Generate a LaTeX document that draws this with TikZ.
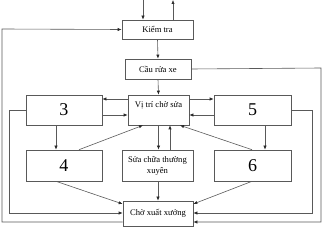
\documentclass[tikz,border=0pt]{standalone}
\usepackage{fontspec}
\setmainfont{Liberation Serif}
\usetikzlibrary{arrows.meta}
\begin{document}
\begin{tikzpicture}[x=1pt,y=-1pt,
  box/.style={draw=black!65,line width=0.6pt,rectangle,inner sep=0pt,font=\fontsize{8.6}{10}\selectfont},
  numbox/.style={box,font=\fontsize{18}{20}\selectfont},
  ln/.style={draw=black!65,line width=0.6pt},
  arr/.style={ln,-{Latex[length=4pt,width=3.2pt,color=black!85]}}]
\useasboundingbox (0,0) rectangle (322,227);
% nodes
\node[box,minimum width=71pt,minimum height=19pt] (k) at (157.5,29.5) {Kiểm tra};
\node[box,minimum width=66pt,minimum height=20pt] (c) at (158,69) {Cầu rửa xe};
\node[box,minimum width=61pt,minimum height=30pt] (v) at (158.5,110) {};
\node[font=\fontsize{8.6}{10}\selectfont] (vt) at (158.5,105) {Vị trí chờ sửa};
\node[numbox,minimum width=76pt,minimum height=30pt] (b3) at (64,110) {3};
\node[numbox,minimum width=77pt,minimum height=30pt] (b5) at (252.5,110) {5};
\node[numbox,minimum width=76pt,minimum height=31pt] (b4) at (64,165.5) {4};
\node[box,minimum width=71pt,minimum height=31pt,align=center] (s) at (157.5,165.5) {Sửa chữa thường\\[1pt]xuyên};
\node[numbox,minimum width=77pt,minimum height=31pt] (b6) at (252.5,165.5) {6};
\node[box,minimum width=70pt,minimum height=25pt] (ch) at (158,213.5) {Chờ xuất xưởng};
% free ends / corners
\coordinate (tin) at (143,0);
\coordinate (tout) at (173,0);
\coordinate (cr1) at (321,68);
\coordinate (cr2) at (321,222);
\coordinate (cl1) at (2,222);
\coordinate (cl2) at (2,29);
\coordinate (l3a) at (9,110);
\coordinate (l3b) at (9,213);
\coordinate (r5a) at (312,110);
\coordinate (r5b) at (312,213);
% connectors
\draw[arr] (tin) -- (tin |- k.north);
\draw[arr] (tout |- k.north) -- (tout);
\draw[arr] (k.south) -- (c.north);
\draw[arr] (c.south) -- (v.north);
\draw[arr] (c.east) -- (cr1) -- (cr2) -- (ch.east |- cr2);
\draw[arr] (ch.west |- cl1) -- (cl1) -- (cl2) -- (k.west);
\draw[arr] (v.west |- 0,99) -- (b3.east |- 0,99);
\draw[arr] (b3.east |- 0,115) -- (v.west |- 0,115);
\draw[arr] (v.east |- 0,99) -- (b5.west |- 0,99);
\draw[arr] (b5.west |- 0,115) -- (v.east |- 0,115);
\draw[arr] (b3.west) -- (l3a) -- (l3b) -- (ch.west |- l3b);
\draw[arr] (b5.east) -- (r5a) -- (r5b) -- (ch.east |- r5b);
\draw[arr] (b3.south -| 56,0) -- (b4.north -| 56,0);
\draw[arr] (b5.south -| 265,0) -- (b6.north -| 265,0);
\draw[arr] (b4.north -| 79,0) -- (v.south -| 143,0);
\draw[arr] (b6.north -| 252,0) -- (v.south -| 180,0);
\draw[arr] (v.south) -- (s.north -| v.south);
\draw[arr] (s.north -| 170,0) -- (v.south -| 170,0);
\draw[arr] (s.south -| ch.north) -- (ch.north);
\draw[arr] (b4.south -| 56,0) -- (ch.west |- 0,204);
\draw[arr] (b6.south -| 252,0) -- (ch.east |- 0,204);
\end{tikzpicture}
\end{document}
